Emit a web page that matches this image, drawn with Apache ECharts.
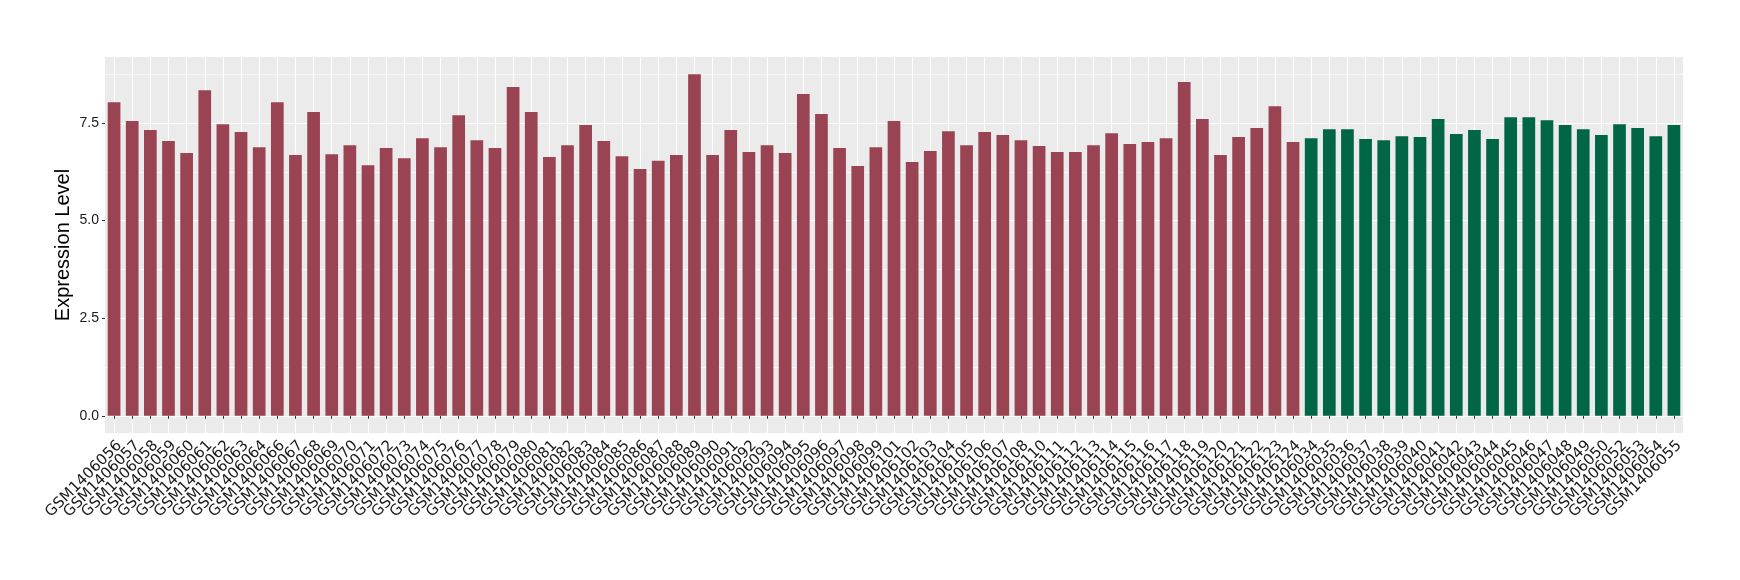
<!DOCTYPE html>
<html>
<head>
<meta charset="utf-8">
<title>Expression Level</title>
<script src="https://cdn.jsdelivr.net/npm/echarts@6/dist/echarts.min.js"></script>
<style>
  html, body { margin: 0; padding: 0; background: #fff; }
  #chart { width: 1740px; height: 580px; }
</style>
</head>
<body>
<div id="chart"></div>
<script>
// first group (red)
var redSamples = [
  "GSM1406056", "GSM1406057", "GSM1406058", "GSM1406059", "GSM1406060", "GSM1406061",
  "GSM1406062", "GSM1406063", "GSM1406064", "GSM1406066", "GSM1406067", "GSM1406068",
  "GSM1406069", "GSM1406070", "GSM1406071", "GSM1406072", "GSM1406073", "GSM1406074",
  "GSM1406075", "GSM1406076", "GSM1406077", "GSM1406078", "GSM1406079", "GSM1406080",
  "GSM1406081", "GSM1406082", "GSM1406083", "GSM1406084", "GSM1406085", "GSM1406086",
  "GSM1406087", "GSM1406088", "GSM1406089", "GSM1406090", "GSM1406091", "GSM1406092",
  "GSM1406093", "GSM1406094", "GSM1406095", "GSM1406096", "GSM1406097", "GSM1406098",
  "GSM1406099", "GSM1406101", "GSM1406102", "GSM1406103", "GSM1406104", "GSM1406105",
  "GSM1406106", "GSM1406107", "GSM1406108", "GSM1406110", "GSM1406111", "GSM1406112",
  "GSM1406113", "GSM1406114", "GSM1406115", "GSM1406116", "GSM1406117", "GSM1406118",
  "GSM1406119", "GSM1406120", "GSM1406121", "GSM1406122", "GSM1406123", "GSM1406124"
];
var redValues = [
  8.03, 7.55, 7.32, 7.04, 6.73, 8.34,
  7.47, 7.27, 6.88, 8.03, 6.68, 7.78,
  6.70, 6.93, 6.42, 6.86, 6.60, 7.11,
  6.88, 7.70, 7.06, 6.86, 8.42, 7.78,
  6.63, 6.93, 7.45, 7.04, 6.65, 6.32,
  6.53, 6.68, 8.75, 6.68, 7.32, 6.76,
  6.93, 6.73, 8.24, 7.73, 6.86, 6.40,
  6.88, 7.55, 6.50, 6.78, 7.29, 6.93,
  7.27, 7.19, 7.06, 6.91, 6.76, 6.76,
  6.93, 7.24, 6.96, 7.01, 7.11, 8.55,
  7.60, 6.68, 7.14, 7.37, 7.93, 7.01
];
// second group (green)
var greenSamples = [
  "GSM1406034", "GSM1406035", "GSM1406036", "GSM1406037", "GSM1406038", "GSM1406039",
  "GSM1406040", "GSM1406041", "GSM1406042", "GSM1406043", "GSM1406044", "GSM1406045",
  "GSM1406046", "GSM1406047", "GSM1406048", "GSM1406049", "GSM1406050", "GSM1406052",
  "GSM1406053", "GSM1406054", "GSM1406055"
];
var greenValues = [
  7.11, 7.34, 7.34, 7.09, 7.06, 7.16,
  7.14, 7.60, 7.22, 7.32, 7.09, 7.65,
  7.65, 7.57, 7.45, 7.34, 7.19, 7.47,
  7.37, 7.16, 7.45
];
var majorTicks = [0, 2.5, 5, 7.5];
var minorTicks = [1.25, 3.75, 6.25, 8.75];

var categories = redSamples.concat(greenSamples);
var redData = redValues.concat(greenSamples.map(function() { return "-"; }));
var greenData = redSamples.map(function() { return "-"; }).concat(greenValues);

var myChart = echarts.init(document.getElementById("chart"));
var option = {
  animation: false,
  grid: {
    left: 105,
    right: 57,
    top: 57,
    bottom: 147,
    show: true,
    backgroundColor: "#EBEBEB",
    borderWidth: 0
  },
  xAxis: {
    type: "category",
    data: categories,
    boundaryGap: true,
    axisLine: { show: false },
    axisTick: {
      show: true,
      alignWithLabel: true,
      interval: 0,
      length: 3,
      lineStyle: { color: "#333333", width: 1 }
    },
    axisLabel: {
      interval: 0,
      rotate: 45,
      align: "right",
      verticalAlign: "top",
      margin: 5,
      color: "#1a1a1a",
      fontFamily: "DejaVu Sans",
      fontSize: 15
    },
    splitLine: {
      show: true,
      alignWithLabel: true,
      interval: 0,
      lineStyle: { color: "#ffffff", width: 1.1 }
    }
  },
  yAxis: [
    {
      type: "value",
      min: -0.44,
      max: 9.19,
      name: "Expression Level",
      nameLocation: "middle",
      nameGap: 32,
      nameMoveOverlap: false,
      nameTextStyle: {
        color: "#000000",
        fontFamily: "Liberation Sans",
        fontSize: 20
      },
      axisLine: { show: false },
      axisTick: {
        show: true,
        length: 3,
        customValues: majorTicks,
        lineStyle: { color: "#333333", width: 1 }
      },
      axisLabel: {
        customValues: majorTicks,
        margin: 6,
        color: "#1a1a1a",
        fontFamily: "Liberation Sans",
        fontSize: 14,
        formatter: function(v) { return v.toFixed(1); }
      },
      splitLine: {
        show: true,
        lineStyle: { color: "#ffffff", width: 1.1 }
      }
    },
    {
      // minor grid lines only
      type: "value",
      min: -0.44,
      max: 9.19,
      position: "left",
      axisLine: { show: false },
      axisTick: { show: false, customValues: minorTicks },
      axisLabel: { show: false, customValues: minorTicks },
      splitLine: {
        show: true,
        lineStyle: { color: "#ffffff", width: 0.6 }
      }
    }
  ],
  series: [
    {
      type: "bar",
      name: "red",
      stack: "all",
      barWidth: "70%",
      data: redData,
      itemStyle: { color: "#9A4352" }
    },
    {
      type: "bar",
      name: "green",
      stack: "all",
      barWidth: "70%",
      data: greenData,
      itemStyle: { color: "#016646" }
    }
  ]
};
myChart.setOption(option);
</script>
</body>
</html>
